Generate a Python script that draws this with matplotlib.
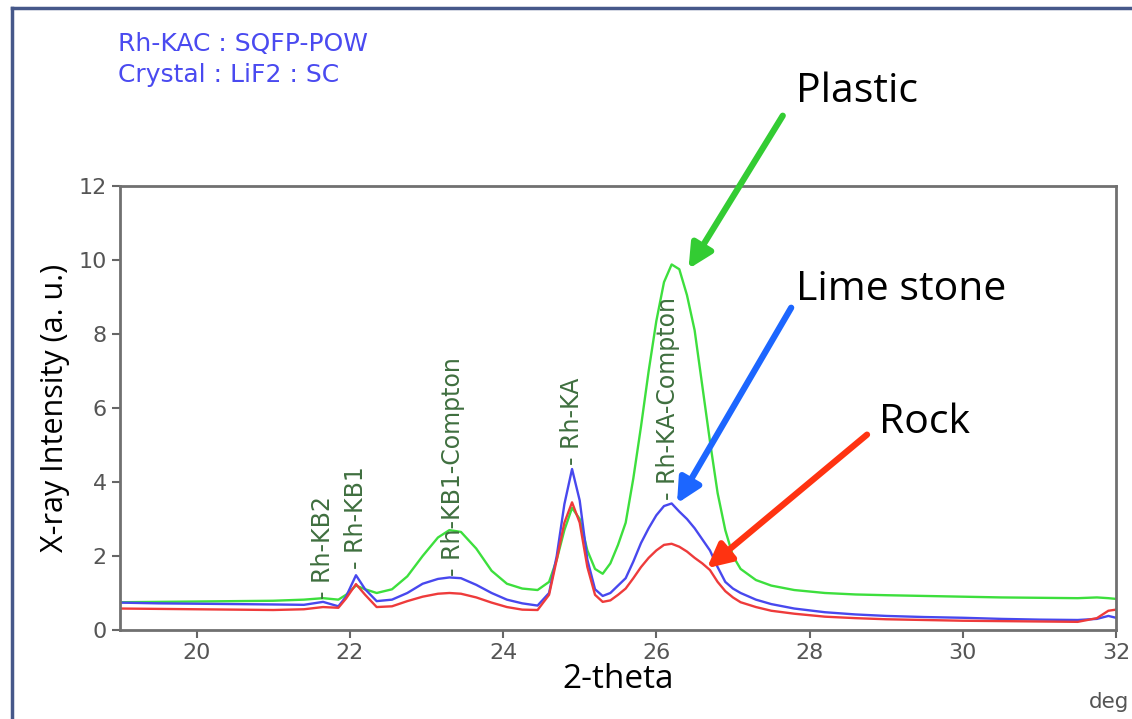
import matplotlib
matplotlib.use('Agg')
from matplotlib import pyplot as plt
from matplotlib.lines import Line2D

# 2-theta positions (deg)
two_theta = [19.0, 19.5, 20.0, 20.5, 21.0, 21.4, 21.65, 21.85, 21.95, 22.08, 22.2, 22.35,
             22.55, 22.75, 22.95, 23.15, 23.3, 23.45, 23.65, 23.85, 24.05, 24.25, 24.45,
             24.6, 24.7, 24.8, 24.9, 25.0, 25.1, 25.2, 25.3, 25.4, 25.5, 25.6, 25.7, 25.8,
             25.9, 26.0, 26.1, 26.2, 26.3, 26.4, 26.5, 26.6, 26.7, 26.8, 26.9, 27.0, 27.1,
             27.3, 27.5, 27.8, 28.2, 28.6, 29.0, 29.5, 30.0, 30.5, 31.0, 31.5, 31.75, 31.9, 32.0]

# intensities
plastic = [0.75, 0.76, 0.77, 0.78, 0.79, 0.82, 0.86, 0.82, 0.95, 1.2, 1.1, 1.0,
           1.1, 1.45, 2.0, 2.5, 2.7, 2.65, 2.2, 1.6, 1.25, 1.12, 1.08,
           1.3, 1.9, 2.7, 3.3, 3.0, 2.15, 1.65, 1.52, 1.8, 2.3, 2.9, 4.1, 5.5,
           7.0, 8.35, 9.4, 9.88, 9.75, 9.05, 8.1, 6.6, 5.1, 3.7, 2.7, 2.0, 1.65,
           1.35, 1.2, 1.08, 1.0, 0.96, 0.94, 0.92, 0.9, 0.88, 0.87, 0.86, 0.88, 0.86, 0.84]

lime_stone = [0.74, 0.72, 0.71, 0.7, 0.69, 0.68, 0.76, 0.64, 0.9, 1.48, 1.1, 0.78,
              0.82, 1.0, 1.25, 1.38, 1.42, 1.4, 1.22, 1.0, 0.82, 0.72, 0.66,
              1.0, 2.0, 3.4, 4.35, 3.5, 1.9, 1.1, 0.92, 1.0, 1.2, 1.4, 1.85, 2.35,
              2.75, 3.1, 3.35, 3.42, 3.2, 3.0, 2.75, 2.45, 2.15, 1.7, 1.3, 1.12, 1.0,
              0.82, 0.7, 0.58, 0.48, 0.42, 0.38, 0.35, 0.33, 0.3, 0.28, 0.27, 0.3, 0.38, 0.33]

rock = [0.58, 0.57, 0.56, 0.55, 0.54, 0.56, 0.62, 0.6, 0.85, 1.24, 0.95, 0.62,
        0.64, 0.78, 0.9, 0.98, 1.0, 0.98, 0.88, 0.74, 0.62, 0.55, 0.54,
        0.95, 1.9, 2.9, 3.45, 2.9, 1.7, 0.95, 0.76, 0.8, 0.95, 1.12, 1.4, 1.7,
        1.95, 2.15, 2.3, 2.33, 2.25, 2.12, 1.95, 1.8, 1.62, 1.3, 1.05, 0.88, 0.75,
        0.62, 0.52, 0.44, 0.36, 0.32, 0.29, 0.27, 0.25, 0.24, 0.23, 0.22, 0.32, 0.52, 0.55]

# peak markers
peak_names = ['Rh-KB2', 'Rh-KB1', 'Rh-KB1-Compton', 'Rh-KA', 'Rh-KA-Compton']
peak_x = [21.65, 22.08, 23.35, 24.9, 26.15]
peak_y = [0.85, 1.65, 1.45, 4.45, 3.5]

# sample names with arrow tip / tail
samples = ['Plastic', 'Lime stone', 'Rock']
arrow_tip = [(26.42, 9.76), (26.27, 3.42), (26.66, 1.67)]
arrow_tail = [(27.65, 13.9), (27.76, 8.71), (28.75, 5.28)]
name_pos = [(27.82, 14.55), (27.82, 9.2), (28.91, 5.6)]

fig = plt.figure(figsize=(11.32, 7.19), dpi=100)
ax = fig.add_axes([0.106, 0.1238, 0.8799, 0.6175])

ax.plot(two_theta, plastic, color='#3ddf3d', lw=1.7)
ax.plot(two_theta, lime_stone, color='#4848ee', lw=1.7)
ax.plot(two_theta, rock, color='#ee3b3b', lw=1.7)

ax.set_xlim(19, 32)
ax.set_ylim(0, 12)
ax.set_xticks([20, 22, 24, 26, 28, 30, 32])
ax.set_yticks([0, 2, 4, 6, 8, 10, 12])
ax.tick_params(colors='#666666', labelcolor='#555555', labelsize=16, length=6, width=1.5,
               direction='out')
for s in ax.spines.values():
    s.set_color('#707070')
    s.set_linewidth(2)

ax.set_xlabel('2-theta', fontfamily='Open Sans', fontsize=24, labelpad=0)
ax.set_ylabel('X-ray Intensity (a. u.)', fontfamily='Open Sans', fontsize=22, labelpad=6)

for name, px, py in zip(peak_names, peak_x, peak_y):
    ax.text(px, py, '- ' + name, rotation=90, ha='center', va='bottom',
            color='#3f6f3f', fontsize=17)

arrow_colors = ['#33cc33', '#1c66ff', '#ff3311']
for name, tip, tail, pos, c in zip(samples, arrow_tip, arrow_tail, name_pos, arrow_colors):
    ax.annotate('', xy=tip, xytext=tail, annotation_clip=False,
                arrowprops=dict(arrowstyle='-|>', color=c, lw=4.5, mutation_scale=36,
                                shrinkA=0, shrinkB=0))
    ax.text(pos[0], pos[1], name, ha='left', va='center', fontfamily='Open Sans',
            fontsize=29.5, color='black', clip_on=False)

fig.text(118 / 1132, 1 - 44 / 719, 'Rh-KAC : SQFP-POW', color='#4a4af0', fontsize=18,
         va='center')
fig.text(118 / 1132, 1 - 75 / 719, 'Crystal : LiF2 : SC', color='#4a4af0', fontsize=18,
         va='center')
fig.text(1089 / 1132, 1 - 702 / 719, 'deg', color='#555555', fontsize=15.5, va='center')

# outer frame
fig.add_artist(Line2D([12 / 1132, 1], [1 - 8 / 719, 1 - 8 / 719], color='#46588a', lw=2.5))
fig.add_artist(Line2D([12 / 1132, 12 / 1132], [0, 1 - 8 / 719], color='#46588a', lw=2.5))

fig.savefig('out.png', dpi=100)
